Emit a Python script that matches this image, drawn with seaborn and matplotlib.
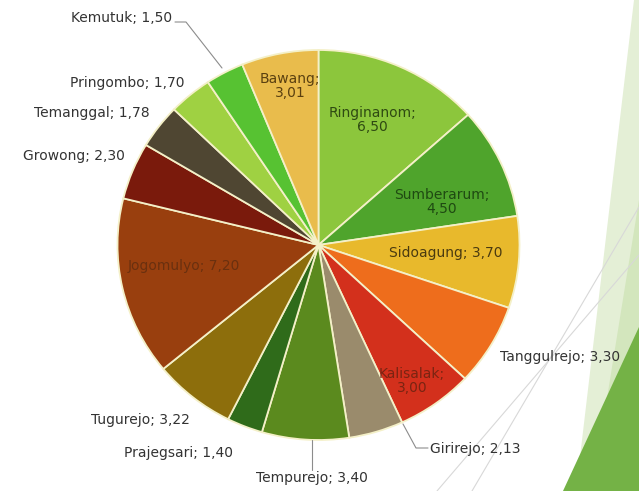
import matplotlib
matplotlib.use("Agg")
import matplotlib.pyplot as plt
import seaborn as sns
from matplotlib.patches import Polygon
from matplotlib.lines import Line2D

# village names and values (clockwise from 12 o'clock)
villages = ["Ringinanom", "Sumberarum", "Sidoagung", "Tanggulrejo", "Kalisalak",
            "Girirejo", "Tempurejo", "Prajegsari", "Tugurejo", "Jogomulyo",
            "Growong", "Temanggal", "Pringombo", "Kemutuk", "Bawang"]
values = [6.50, 4.50, 3.70, 3.30, 3.00, 2.13, 3.40, 1.40, 3.22, 7.20,
          2.30, 1.78, 1.70, 1.50, 3.01]
colors = ["#8cc63c", "#4fa42c", "#e8b92c", "#ee6d1c", "#d3301c",
          "#9a8b6c", "#5b8a1e", "#2f6b1a", "#8d6e0c", "#993f0e",
          "#7a1a0c", "#4f4632", "#9fd142", "#57c232", "#e9bc4c"]

W, H = 639, 491
CX, CY, RX, RY = 318.5, 245, 201, 195

sns.set_theme(style="white")
plt.rcParams['font.family'] = ['DejaVu Sans']

fig = plt.figure(figsize=(W / 100, H / 100), dpi=100)
fig.patch.set_facecolor("white")


def fp(x, y):
    # pixel position -> figure fraction
    return (x / W, 1 - y / H)


# slide decoration on the right
fig.add_artist(Polygon([fp(634, 0), fp(639, 0), fp(639, 491), fp(576, 491)],
                       closed=True, facecolor="#e4efd6", edgecolor="none",
                       transform=fig.transFigure, zorder=0))
fig.add_artist(Polygon([fp(639, 200), fp(639, 491), fp(592, 491)],
                       closed=True, facecolor="#d3e6bd", edgecolor="none",
                       transform=fig.transFigure, zorder=0))
fig.add_artist(Polygon([fp(639, 327), fp(639, 491), fp(563, 491)],
                       closed=True, facecolor="#74b246", edgecolor="none",
                       transform=fig.transFigure, zorder=0))
for (x0, y0), (x1, y1) in [((639, 207), (472, 491)), ((639, 255), (437, 491))]:
    fig.add_artist(Line2D([x0 / W, x1 / W], [1 - y0 / H, 1 - y1 / H],
                          color="#d8d8d8", lw=0.8, transform=fig.transFigure, zorder=0))

ax = fig.add_axes([(CX - RX) / W, (H - CY - RY) / H, 2 * RX / W, 2 * RY / H])
ax.patch.set_alpha(0)
ax.pie(values, colors=colors, startangle=90, counterclock=False,
       wedgeprops=dict(edgecolor="#f4f0c8", linewidth=1.3))
ax.set_aspect("auto")
ax.set_xlim(-1, 1)
ax.set_ylim(-1, 1)

# label text and where it sits (pixels), alignment, colour
labels = [
    ("Ringinanom;\n6,50", 372, 120, "center", "#2f4a12"),
    ("Sumberarum;\n4,50", 442, 202, "center", "#1f4a12"),
    ("Sidoagung; 3,70", 446, 253, "center", "#4a3a10"),
    ("Tanggulrejo; 3,30", 500, 357, "left", "#333333"),
    ("Kalisalak;\n3,00", 412, 381, "center", "#7a2412"),
    ("Girirejo; 2,13", 430, 449, "left", "#333333"),
    ("Tempurejo; 3,40", 312, 478, "center", "#333333"),
    ("Prajegsari; 1,40", 233, 453, "right", "#333333"),
    ("Tugurejo; 3,22", 190, 420, "right", "#333333"),
    ("Jogomulyo; 7,20", 184, 266, "center", "#6a300e"),
    ("Growong; 2,30", 125, 156, "right", "#333333"),
    ("Temanggal; 1,78", 150, 113, "right", "#333333"),
    ("Pringombo; 1,70", 185, 83, "right", "#333333"),
    ("Kemutuk; 1,50", 172, 18, "right", "#333333"),
    ("Bawang;\n3,01", 290, 86, "center", "#5a4010"),
]
for txt, x, y, ha, col in labels:
    fig.text(x / W, 1 - y / H, txt, ha=ha, va="center", fontsize=10,
             color=col, linespacing=1.05, zorder=5)

# leader lines
leaders = [
    [(175, 22), (186, 22), (222, 68)],
    [(312, 470), (312, 440)],
    [(428, 448), (416, 448), (403, 424)],
]
for pts in leaders:
    xs = [p[0] / W for p in pts]
    ys = [1 - p[1] / H for p in pts]
    fig.add_artist(Line2D(xs, ys, color="#8c8c8c", lw=0.8,
                          transform=fig.transFigure, zorder=4))

fig.savefig("out.png", dpi=100)
